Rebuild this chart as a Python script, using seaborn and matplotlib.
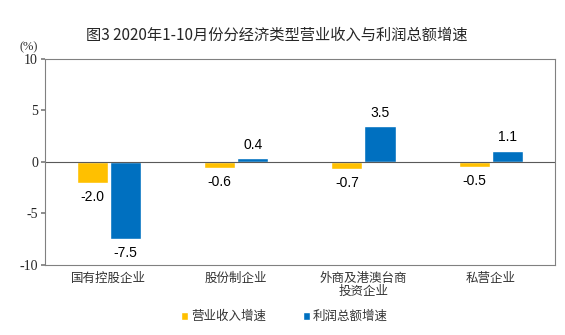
import matplotlib
matplotlib.use("Agg")
import matplotlib.pyplot as plt
import seaborn as sns
import pandas as pd

categories = ["国有控股企业", "股份制企业", "外商及港澳台商\n投资企业", "私营企业"]
revenue = [-2.0, -0.6, -0.7, -0.5]
profit = [-7.5, 0.4, 3.5, 1.1]
series = ["营业收入增速", "利润总额增速"]
colors = ["#FFC000", "#0070C0"]

sns.set_theme(style="white")
plt.rcParams['font.family'] = ['Noto Sans CJK SC', 'DejaVu Sans']

df = pd.DataFrame({
    "cat": categories * 2,
    "series": [series[0]] * 4 + [series[1]] * 4,
    "val": revenue + profit,
})

fig = plt.figure(figsize=(5.65, 3.35), dpi=100)
ax = fig.add_axes([0.0796, 0.209, 0.902, 0.615])
sns.barplot(data=df, x="cat", y="val", hue="series", palette=colors,
            width=0.52, gap=0.06, ax=ax, legend=True, saturation=1)

ax.set_ylim(-10, 10)
ax.set_yticks([-10, -5, 0, 5, 10])
ax.set_yticklabels(["-10", "-5", "0", "5", "10"], family="Liberation Serif", fontsize=10)
ax.set_xlabel("")
ax.set_ylabel("")
ax.axhline(0, color="#595959", lw=0.8)
for s in ax.spines.values():
    s.set_color("#808080")
    s.set_linewidth(0.8)
ax.tick_params(axis="x", length=0, labelsize=9, colors="#333333", pad=5)
ax.tick_params(axis="y", length=3, left=True, color="#808080", labelsize=10, pad=2)
for lbl in ax.get_xticklabels():
    lbl.set_linespacing(1.0)

for cont in ax.containers:
    for bar in cont:
        h = bar.get_height()
        x = bar.get_x() + bar.get_width() / 2
        if h >= 0:
            ax.text(x, h + 0.6, f"{h:.1f}", ha="center", va="bottom",
                    fontsize=10, family="Liberation Sans", color="#000000")
        else:
            ax.text(x, h - 0.7, f"{h:.1f}", ha="center", va="top",
                    fontsize=10, family="Liberation Sans", color="#000000")

ax.legend(loc="upper center", bbox_to_anchor=(0.47, -0.165), ncol=2, frameon=False,
          fontsize=9, handlelength=0.55, handleheight=0.55, handletextpad=0.2,
          columnspacing=3.0, labelcolor="#333333")

fig.text(0.05, 0.84, "(%)", fontsize=9, family="Liberation Serif", ha="center", va="bottom",
         color="#333333")
fig.text(0.49, 0.895, "图3 2020年1-10月份分经济类型营业收入与利润总额增速",
         fontsize=11, ha="center", va="center")

fig.savefig("out.png", dpi=100)
